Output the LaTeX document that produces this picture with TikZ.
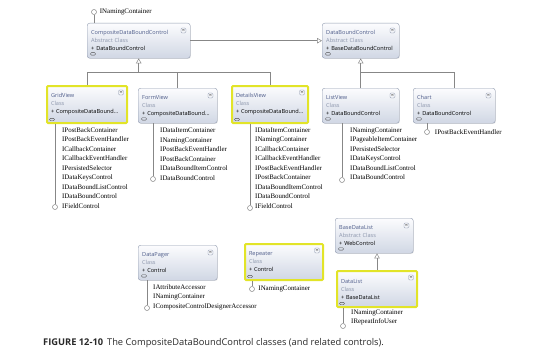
\documentclass[tikz,border=0pt]{standalone}
\usepackage{fontspec}
\setmainfont{Liberation Serif}
\setsansfont{Open Sans}
\usetikzlibrary{positioning,arrows.meta,shadows}
\definecolor{boxline}{RGB}{146,156,176}
\definecolor{boxtop}{RGB}{252,252,254}
\definecolor{boxbot}{RGB}{208,215,228}
\definecolor{titleblue}{RGB}{78,92,138}
\definecolor{kindgray}{RGB}{140,150,172}
\definecolor{hlyellow}{RGB}{226,228,40}
\definecolor{wire}{RGB}{135,135,135}
\definecolor{captext}{RGB}{40,40,40}
\newcommand{\clsname}[1]{{\color{titleblue}#1}}
\newcommand{\clskind}[1]{{\color{kindgray}#1}}

\begin{document}
\begin{tikzpicture}[x=1pt,y=-1pt,
  cls/.style 2 args={draw=boxline,rounded corners=2.5pt,top color=boxtop,bottom color=boxbot,
    anchor=north west,align=left,inner xsep=4pt,text width=#1pt,minimum height=#2pt,
    font=\sffamily\fontsize{5.6}{8}\selectfont,
    drop shadow={opacity=0.18,shadow xshift=0.7pt,shadow yshift=-0.7pt}},
  hl/.style={draw=hlyellow,line width=2pt,rounded corners=1pt},
  ifc/.style={anchor=north west,align=left,inner sep=0pt,text=black,font=\rmfamily\fontsize{6.9}{9.5}\selectfont},
  ring/.style={circle,draw=wire,fill=white,line width=0.5pt,minimum size=5pt,inner sep=0pt},
  btn/.style={draw=kindgray,rounded corners=1.2pt,line width=0.3pt,minimum size=5pt,inner sep=0pt,
    path picture={\draw[line width=0.3pt,black!60]
      ([xshift=-1.1pt,yshift=1.2pt]path picture bounding box.center) -- ++(1.1pt,-0.8pt) -- ++(1.1pt,0.8pt)
      ([xshift=-1.1pt,yshift=-0.1pt]path picture bounding box.center) -- ++(1.1pt,-0.8pt) -- ++(1.1pt,0.8pt);}},
  fold/.style={draw=black!70,line width=0.4pt,rounded corners=1pt,minimum width=5pt,minimum height=2.4pt,inner sep=0pt},
  wire/.style={draw=wire,line width=0.5pt},
  inh/.style={wire,-{Triangle[open,length=5pt,width=5.5pt]}}]
\useasboundingbox (0,0) rectangle (540,353);
\coordinate (busy) at (0,72);
% abstract base classes
\node[cls={95}{35}] (cdbc) at (87,23) {\clsname{CompositeDataBoundControl}\\\clskind{Abstract Class}\\+~DataBoundControl};
\node[cls={69}{35}] (dbc) at (322,23) {\clsname{DataBoundControl}\\\clskind{Abstract Class}\\+~BaseDataBoundControl};
% data-bound controls
\node[cls={72}{37},hl] (gv) at (46,85) {\clsname{GridView}\\\clskind{Class}\\+~CompositeDataBound...};
\node[cls={71}{35}] (fv) at (138,88) {\clsname{FormView}\\\clskind{Class}\\+~CompositeDataBound...};
\node[cls={68}{37},hl] (dv) at (231,85) {\clsname{DetailsView}\\\clskind{Class}\\+~CompositeDataBound...};
\node[cls={69}{35}] (lv) at (322,88) {\clsname{ListView}\\\clskind{Class}\\+~DataBoundControl};
\node[cls={74}{35}] (ch) at (413,88) {\clsname{Chart}\\\clskind{Class}\\+~DataBoundControl};
% related controls
\node[cls={71}{35}] (dp) at (138,245) {\clsname{DataPager}\\\clskind{Class}\\+~Control};
\node[cls={70}{36},hl] (rp) at (244,243) {\clsname{Repeater}\\\clskind{Class}\\+~Control};
\node[cls={70}{35}] (bdl) at (335,218) {\clsname{BaseDataList}\\\clskind{Abstract Class}\\+~WebControl};
\node[cls={72}{36},hl] (dl) at (336,270) {\clsname{DataList}\\\clskind{Class}\\+~BaseDataList};
\foreach \b in {cdbc,dbc,gv,fv,dv,lv,ch,dp,rp,bdl,dl} {
  \node[btn] at ([xshift=-7pt,yshift=-7.5pt]\b.north east) {};
  \node[fold] at ([xshift=6pt,yshift=4.5pt]\b.south west) {};
}
% inheritance
\draw[inh] (cdbc.east) -- (dbc.west);
\draw[wire] (gv.north) |- (dv.north |- busy) -- (dv.north);
\draw[wire] (fv.north) -- (fv.north |- busy);
\draw[inh] (cdbc.south |- busy) -- (cdbc.south);
\draw[wire] (lv.north) |- (ch.north |- busy) -- (ch.north);
\draw[inh] (dbc.south |- busy) -- (dbc.south);
\draw[inh] (dl.north) -- (dl.north |- bdl.south);
% interfaces
\node[ring] (cdbcr) at (94,12) {};
\node[ifc,right=3pt of cdbcr] (cdbci) {INamingContainer};
\draw[wire] (cdbcr) -- (cdbc.north -| cdbcr);
\node[ring] (gvr) at (55,207) {};
\node[ifc] (gvi) at (62,127.5) {IPostBackContainer\\IPostBackEventHandler\\ICallbackContainer\\ICallbackEventHandler\\IPersistedSelector\\IDataKeysControl\\IDataBoundListControl\\IDataBoundControl\\IFieldControl};
\draw[wire] (gv.south -| gvr) -- (gvr);
\node[ring] (fvr) at (153,179) {};
\node[ifc] (fvi) at (160,128) {IDataItemContainer\\INamingContainer\\IPostBackEventHandler\\IPostBackContainer\\IDataBoundItemControl\\IDataBoundControl};
\draw[wire] (fv.south -| fvr) -- (fvr);
\node[ring] (dvr) at (250,208) {};
\node[ifc] (dvi) at (255,127.5) {IDataItemContainer\\INamingContainer\\ICallbackContainer\\ICallbackEventHandler\\IPostBackEventHandler\\IPostBackContainer\\IDataBoundItemControl\\IDataBoundControl\\IFieldControl};
\draw[wire] (dv.south -| dvr) -- (dvr);
\node[ring] (lvr) at (342,180) {};
\node[ifc] (lvi) at (350,127.5) {INamingContainer\\IPageableItemContainer\\IPersistedSelector\\IDataKeysControl\\IDataBoundListControl\\IDataBoundControl};
\draw[wire] (lv.south -| lvr) -- (lvr);
\node[ring] (chr) at (427,132) {};
\node[ifc,right=5pt of chr] (chi) {IPostBackEventHandler};
\draw[wire] (ch.south -| chr) -- (chr);
\node[ring] (dpr) at (147,308) {};
\node[ifc] (dpi) at (153,284.5) {IAttributeAccessor\\INamingContainer\\ICompositeControlDesignerAccessor};
\draw[wire] (dp.south -| dpr) -- (dpr);
\node[ring] (rpr) at (252,289) {};
\node[ifc,right=3.5pt of rpr] (rpi) {INamingContainer};
\draw[wire] (rp.south -| rpr) -- (rpr);
\node[ring] (dlr) at (343,326) {};
\node[ifc] (dli) at (351,309.5) {INamingContainer\\IRepeatInfoUser};
\draw[wire] (dl.south -| dlr) -- (dlr);
% caption
\node[anchor=west,inner sep=0pt,text=captext,font=\sffamily\fontsize{9.3}{11}\selectfont] (cap) at (43,343) {\textbf{FIGURE 12-10}\hspace{4pt}The CompositeDataBoundControl classes (and related controls).};
\end{tikzpicture}
\end{document}
